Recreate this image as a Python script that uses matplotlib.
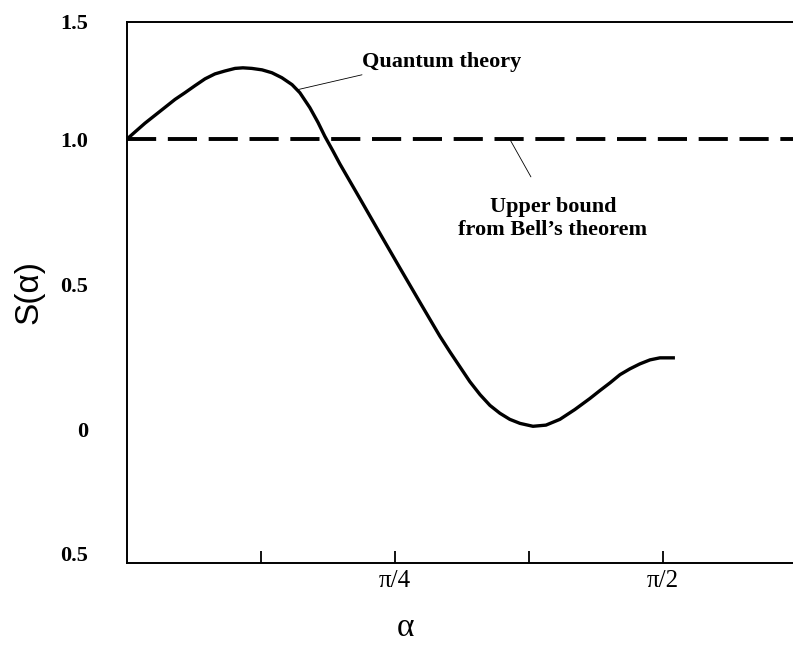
import numpy as np
import matplotlib
matplotlib.use("Agg")
import matplotlib.pyplot as plt

# значения кривой (alpha в радианах)
alpha = [0.000, 0.023, 0.053, 0.082, 0.111, 0.141, 0.170, 0.199, 0.229, 0.258,
         0.287, 0.317, 0.340, 0.366, 0.396, 0.425, 0.454, 0.484, 0.507, 0.536,
         0.560, 0.580, 0.604, 0.624, 0.683, 0.741, 0.800, 0.859, 0.917, 0.947,
         0.976, 1.005, 1.035, 1.064, 1.093, 1.122, 1.152, 1.190, 1.228, 1.269,
         1.313, 1.357, 1.386, 1.416, 1.445, 1.474, 1.503, 1.533, 1.562, 1.606]
s_values = [1.000, 1.024, 1.055, 1.082, 1.109, 1.137, 1.160, 1.184, 1.208, 1.225,
            1.235, 1.244, 1.246, 1.244, 1.239, 1.229, 1.212, 1.188, 1.160, 1.109,
            1.058, 1.010, 0.959, 0.915, 0.795, 0.676, 0.556, 0.437, 0.321, 0.266,
            0.215, 0.164, 0.119, 0.082, 0.055, 0.034, 0.020, 0.010, 0.014, 0.034,
            0.068, 0.106, 0.133, 0.160, 0.188, 0.208, 0.225, 0.239, 0.246, 0.246]
bell_bound = 1.0

xtick_pos = [np.pi / 8, np.pi / 4, 3 * np.pi / 8, np.pi / 2]
xtick_labels = ['', 'π/4', '', 'π/2']
ytick_pos = [1.404, 1.0, 0.5, 0.0, -0.427]
ytick_labels = ['1.5', '1.0', '0.5', '0', '0.5']

plt.rcParams['font.family'] = ['Liberation Serif', 'DejaVu Serif']

fig = plt.figure(figsize=(7.93, 6.47), dpi=100)
ax = fig.add_axes([0.160, 0.130, 0.840, 0.836])

ax.plot(alpha, s_values, color='black', linewidth=2.4,
        solid_capstyle='butt', solid_joinstyle='round')
ax.axhline(bell_bound, color='black', linewidth=2.8, dashes=(7.5, 3.0))

ax.set_xlim(0, 1.952)
ax.set_ylim(-0.461, 1.386)

ax.set_xticks(xtick_pos)
ax.set_xticklabels(xtick_labels, fontsize=18)
ax.tick_params(axis='x', direction='in', length=9, width=1.3, pad=5)
ax.set_yticks(ytick_pos)
ax.set_yticklabels(ytick_labels, fontsize=16, fontweight='bold')
ax.tick_params(axis='y', length=0, pad=28)

ax.spines['right'].set_visible(False)
for sp in ['left', 'top', 'bottom']:
    ax.spines[sp].set_linewidth(1.4)

ax.set_xlabel('α', fontsize=24)
ax.xaxis.set_label_coords(0.418, -0.092)
ax.set_ylabel('S(α)', fontsize=24, family='Liberation Sans')
ax.yaxis.set_label_coords(-0.123, 0.5)

# подписи и выноски
ax.text(0.689, 1.266, 'Quantum theory', fontsize=16, fontweight='bold',
        va='center', ha='left')
ax.annotate('', xy=(0.498, 1.170), xytext=(0.689, 1.222),
            arrowprops=dict(arrowstyle='-', color='black', lw=0.6,
                            shrinkA=0, shrinkB=0))
ax.text(1.248, 0.802, 'Upper bound\nfrom Bell\u2019s theorem', fontsize=16,
        fontweight='bold', va='top', ha='center', linespacing=1.2)
ax.annotate('', xy=(1.122, 1.0), xytext=(1.184, 0.870),
            arrowprops=dict(arrowstyle='-', color='black', lw=0.6,
                            shrinkA=0, shrinkB=0))

fig.savefig('out.png', dpi=100)
